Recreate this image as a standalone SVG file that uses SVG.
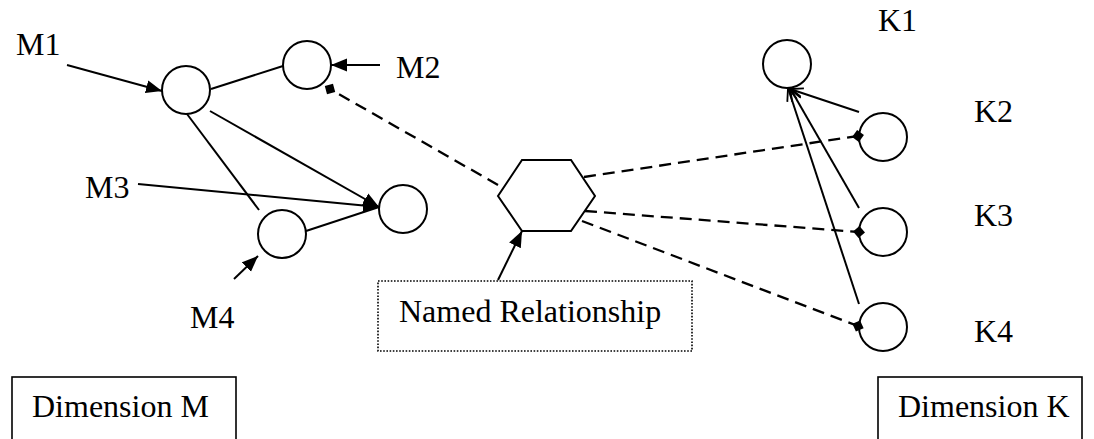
<svg xmlns="http://www.w3.org/2000/svg" width="1094" height="439" viewBox="0 0 1094 439">
  <style>
    .lbl { font-family: "Liberation Serif", "Times New Roman", "DejaVu Serif", serif; font-size: 32px; fill: #000; }
    .node { fill: #fff; stroke: #000; stroke-width: 2; }
    .edge { stroke: #000; stroke-width: 2; fill: none; }
    .dash { stroke: #000; stroke-width: 2.3; fill: none; stroke-dasharray: 12 7; }
    .box { fill: #fff; stroke: #000; stroke-width: 1.6; }
    .dotted { fill: #fff; stroke: #000; stroke-width: 1.6; stroke-dasharray: 1.6 1.6; }
  </style>
  <defs>
    <marker id="arrow" markerUnits="userSpaceOnUse" markerWidth="16" markerHeight="14" refX="16" refY="7" orient="auto">
      <path d="M0,0.5 L16,7 L0,13.5 z" fill="#000"/>
    </marker>
    <marker id="open" markerUnits="userSpaceOnUse" markerWidth="14" markerHeight="12" refX="13" refY="6" orient="auto">
      <path d="M0,1 L13,6 L0,11" fill="none" stroke="#000" stroke-width="1.8"/>
    </marker>
    <marker id="diamond" markerUnits="userSpaceOnUse" markerWidth="14" markerHeight="14" refX="7" refY="7" orient="auto">
      <path d="M1,7 L7,1 L13,7 L7,13 z" fill="#000"/>
    </marker>
  </defs>

  <rect width="1094" height="439" fill="#fff"/>

  <!-- dimension M nodes -->
  <g id="m1"><circle class="node" cx="186" cy="90" r="24"/></g>
  <g id="m2"><circle class="node" cx="307" cy="65" r="24"/></g>
  <g id="m3"><circle class="node" cx="403" cy="209" r="24"/></g>
  <g id="m4"><circle class="node" cx="282" cy="234" r="24"/></g>

  <!-- relationship node -->
  <g id="relationship">
    <polygon class="node" points="522,160 571,160 595,196 571,231 522,231 498,196"/>
  </g>
  <g id="relationship-label">
    <rect class="dotted" x="378" y="281" width="314" height="70"/>
    <text class="lbl" x="399" y="322">Named Relationship</text>
  </g>

  <!-- dimension K nodes -->
  <g id="k1"><circle class="node" cx="787" cy="64" r="24"/></g>
  <g id="k2"><circle class="node" cx="883" cy="137" r="24"/></g>
  <g id="k3"><circle class="node" cx="883" cy="232" r="24"/></g>
  <g id="k4"><circle class="node" cx="883" cy="327" r="24"/></g>

  <!-- connectors, drawn over the nodes so end markers stay whole -->
  <g id="connectors">
    <!-- dimension M -->
    <line class="edge" x1="67" y1="65" x2="162" y2="91" marker-end="url(#arrow)"/>
    <line class="edge" x1="380" y1="65" x2="331" y2="65" marker-end="url(#arrow)"/>
    <line class="edge" x1="138" y1="184" x2="379" y2="207" marker-end="url(#arrow)"/>
    <line class="edge" x1="234" y1="279" x2="258" y2="256" marker-end="url(#arrow)"/>
    <line class="edge" x1="211" y1="89" x2="283" y2="66"/>
    <line class="edge" x1="210" y1="111" x2="379" y2="207" marker-end="url(#arrow)"/>
    <line class="edge" x1="187" y1="114" x2="259" y2="210"/>
    <line class="edge" x1="306" y1="231" x2="379" y2="207"/>
    <!-- relationship links -->
    <line class="dash" x1="498" y1="185" x2="330" y2="89" marker-end="url(#diamond)"/>
    <line class="dash" x1="584" y1="177" x2="858" y2="136" marker-end="url(#diamond)"/>
    <line class="dash" x1="585" y1="211" x2="859" y2="232" marker-end="url(#diamond)"/>
    <line class="dash" x1="582" y1="221" x2="858" y2="326" marker-end="url(#diamond)"/>
    <line class="edge" x1="498" y1="280" x2="522" y2="231" marker-end="url(#arrow)"/>
    <!-- dimension K -->
    <line class="edge" x1="859" y1="112" x2="790" y2="89" marker-end="url(#open)"/>
    <line class="edge" x1="859" y1="208" x2="790" y2="88" marker-end="url(#open)"/>
    <line class="edge" x1="859" y1="304" x2="788" y2="88" marker-end="url(#open)"/>
  </g>

  <!-- labels -->
  <g id="labels">
    <text class="lbl" x="16" y="55">M1</text>
    <text class="lbl" x="396" y="78">M2</text>
    <text class="lbl" x="85" y="198">M3</text>
    <text class="lbl" x="190" y="328">M4</text>
    <text class="lbl" x="878" y="31">K1</text>
    <text class="lbl" x="974" y="122">K2</text>
    <text class="lbl" x="974" y="226">K3</text>
    <text class="lbl" x="974" y="342">K4</text>
  </g>

  <!-- dimension captions -->
  <g id="dimension-m">
    <rect class="box" x="12" y="377" width="224" height="70"/>
    <text class="lbl" x="32" y="417">Dimension M</text>
  </g>
  <g id="dimension-k">
    <rect class="box" x="878" y="377" width="204" height="70"/>
    <text class="lbl" x="898" y="417">Dimension K</text>
  </g>
</svg>
